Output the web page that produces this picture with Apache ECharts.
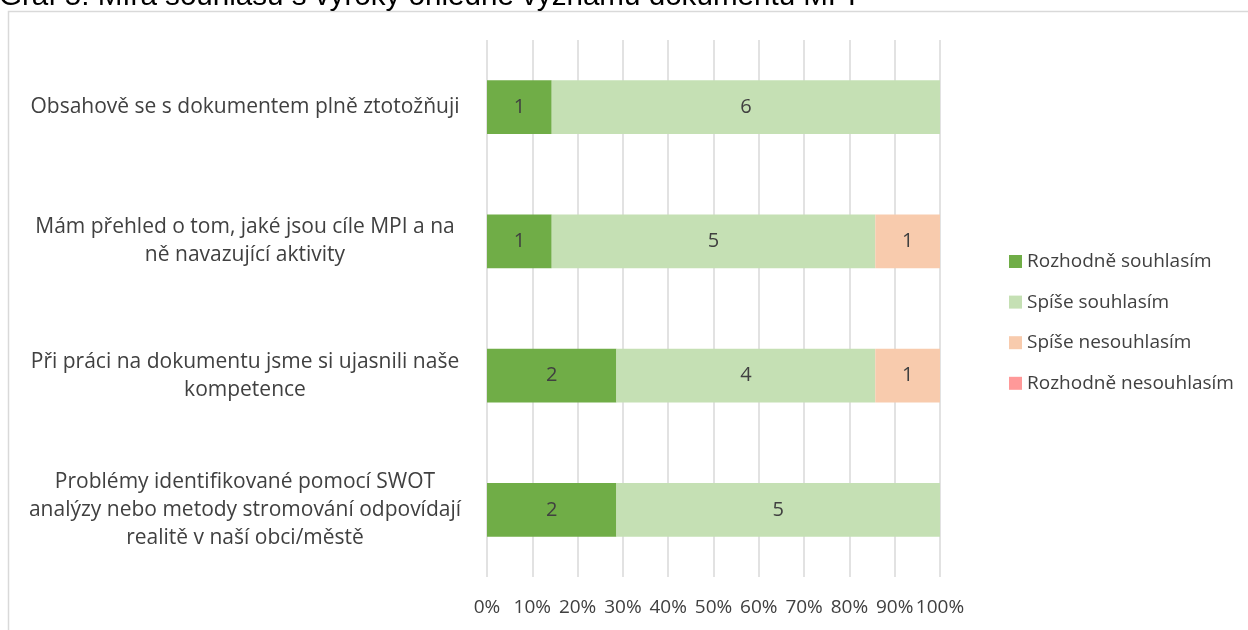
<!DOCTYPE html>
<html>
<head>
<meta charset="utf-8">
<script src="https://cdn.jsdelivr.net/npm/echarts@6/dist/echarts.min.js"></script>
<style>
  html, body { margin: 0; padding: 0; background: #fff; }
  #chart { width: 1248px; height: 630px; }
</style>
</head>
<body>
<div id="chart"></div>
<script>
const categories = [
  'Obsahově se s dokumentem plně ztotožňuji',
  'Mám přehled o tom, jaké jsou cíle MPI a na\nně navazující aktivity',
  'Při práci na dokumentu jsme si ujasnili naše\nkompetence',
  'Problémy identifikované pomocí SWOT\nanalýzy nebo metody stromování odpovídají\nrealitě v naší obci/městě'
]
const seriesNames = ['Rozhodně souhlasím', 'Spíše souhlasím', 'Spíše nesouhlasím', 'Rozhodně nesouhlasím']
const rozhodneSouhlasim = [1, 1, 2, 2]
const spiseSouhlasim = [6, 5, 4, 5]
const spiseNesouhlasim = [0, 1, 1, 0]
const rozhodneNesouhlasim = [0, 0, 0, 0]
const colors = ['#70AD47', '#C5E0B4', '#F8CBAD', '#FF9999']

const counts = [rozhodneSouhlasim, spiseSouhlasim, spiseNesouhlasim, rozhodneNesouhlasim]
const totals = categories.map((_, i) => counts.reduce((s, arr) => s + arr[i], 0))

const font = '"Open Sans", Lato, sans-serif'

const chart = echarts.init(document.getElementById('chart'))

chart.setOption({
  animation: false,
  color: colors,
  title: {
    text: 'Graf 5: Míra souhlasu s výroky ohledně významu dokumentu MPI',
    left: -1,
    top: -18,
    padding: 0,
    textStyle: { fontFamily: 'Arial, "Liberation Sans", sans-serif', fontSize: 29.6, fontWeight: 'normal', color: '#000' }
  },
  graphic: [{
    type: 'rect',
    shape: { x: 8.5, y: 11.5, width: 1300, height: 700 },
    style: { fill: 'none', stroke: '#D9D9D9', lineWidth: 1.5 },
    silent: true
  }],
  grid: { left: 487, right: 308, top: 40, bottom: 53 },
  legend: {
    orient: 'vertical',
    left: 1009,
    top: 252,
    padding: 0,
    itemWidth: 13,
    itemHeight: 13,
    itemGap: 21.6,
    icon: 'rect',
    data: seriesNames,
    textStyle: { fontFamily: font, fontSize: 19, lineHeight: 17, color: '#404040' }
  },
  xAxis: {
    type: 'value',
    min: 0,
    max: 100,
    interval: 10,
    axisLine: { show: false },
    axisTick: { show: false },
    splitLine: { lineStyle: { color: '#D9D9D9', width: 1.5 } },
    axisLabel: {
      formatter: '{value}%',
      margin: 21,
      fontFamily: font,
      fontSize: 19,
      color: '#404040'
    }
  },
  yAxis: {
    type: 'category',
    inverse: true,
    data: categories,
    axisLine: { show: false },
    axisTick: { show: false },
    axisLabel: {
      align: 'center',
      margin: 242,
      lineHeight: 28,
      fontFamily: font,
      fontSize: 21,
      color: '#404040'
    }
  },
  series: counts.map((arr, k) => ({
    name: seriesNames[k],
    type: 'bar',
    stack: 'total',
    barCategoryGap: '60%',
    data: arr.map((v, i) => ({ value: v / totals[i] * 100, count: v })),
    label: {
      show: true,
      position: 'inside',
      fontFamily: font,
      fontSize: 20,
      color: '#404040',
      formatter: p => p.data.count > 0 ? String(p.data.count) : ''
    }
  }))
})
</script>
</body>
</html>
